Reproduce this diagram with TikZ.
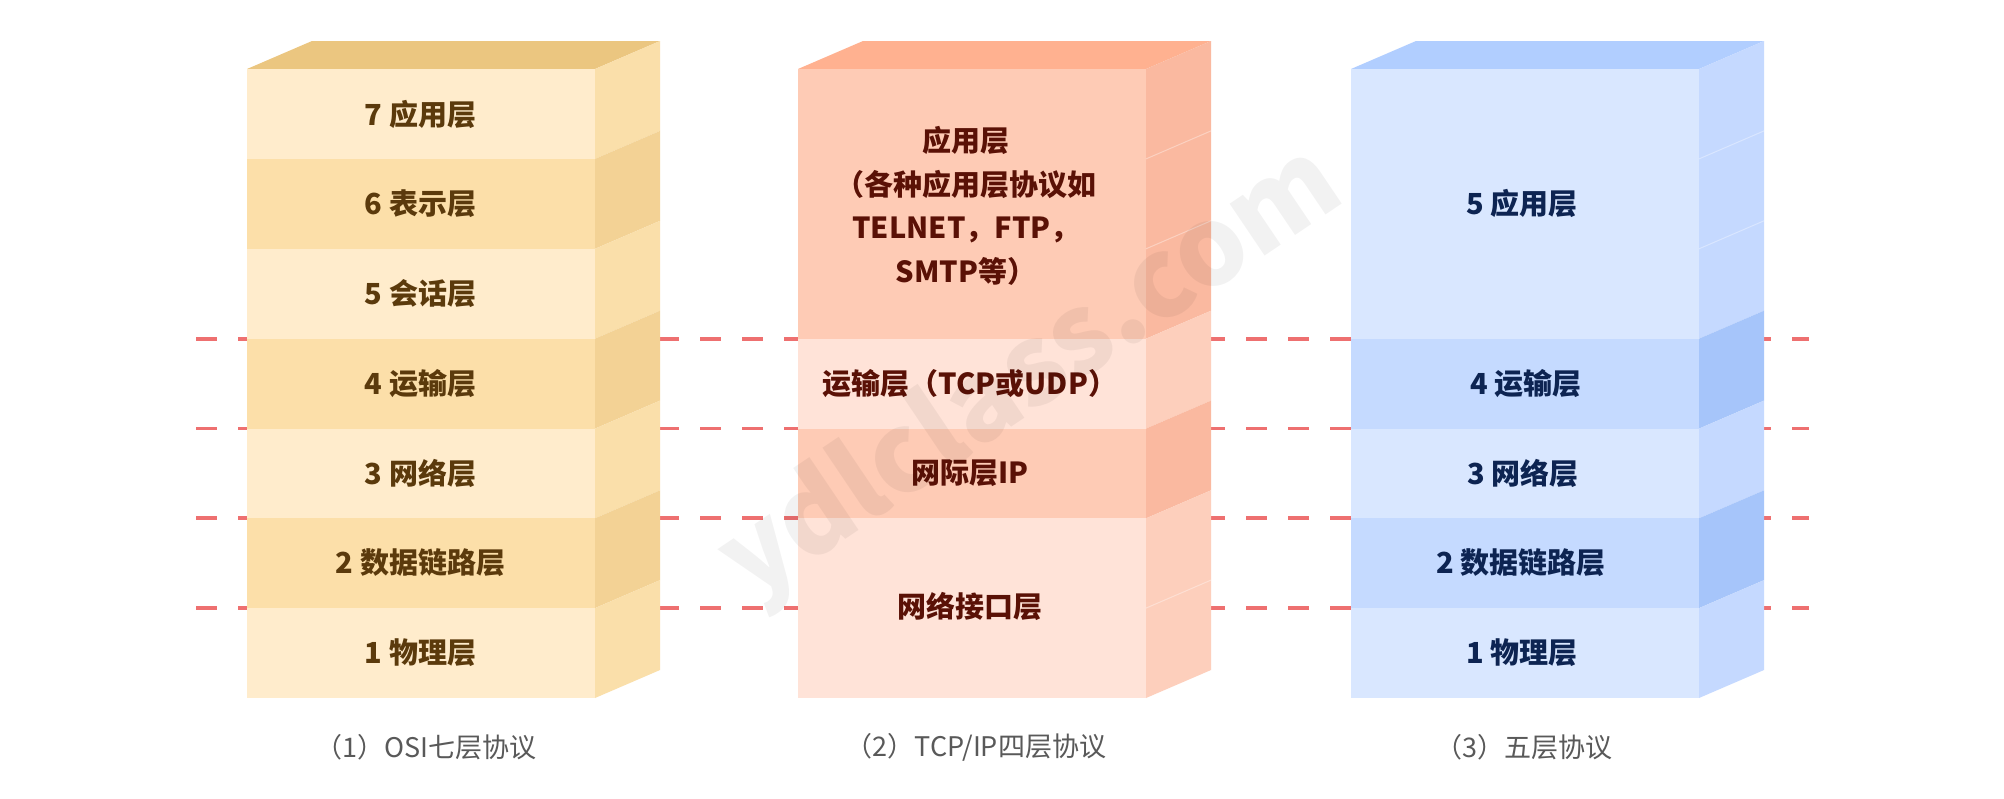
\documentclass[tikz,border=0pt]{standalone}
\usepackage{fontspec}
\newfontfamily\cjk{Noto Sans CJK SC}
\usetikzlibrary{calc}
\definecolor{osiL}{HTML}{FFECCC}
\definecolor{osiD}{HTML}{FCDFA9}
\definecolor{osiSL}{HTML}{FADFAA}
\definecolor{osiSD}{HTML}{F3D295}
\definecolor{osiT}{HTML}{EBC680}
\definecolor{osiTx}{HTML}{5B3A0C}
\definecolor{tcpD}{HTML}{FECBB5}
\definecolor{tcpL}{HTML}{FFE3D8}
\definecolor{tcpSD}{HTML}{FAB9A0}
\definecolor{tcpSL}{HTML}{FDCFBC}
\definecolor{tcpT}{HTML}{FFB190}
\definecolor{tcpTx}{HTML}{5A1106}
\definecolor{fivL}{HTML}{D9E7FF}
\definecolor{fivD}{HTML}{C5DAFF}
\definecolor{fivSL}{HTML}{C5D9FF}
\definecolor{fivSD}{HTML}{A6C5FA}
\definecolor{fivT}{HTML}{B1CEFF}
\definecolor{fivTx}{HTML}{0D2452}
\definecolor{dashred}{HTML}{EE7070}
\definecolor{capgray}{HTML}{595959}
\newcommand\slabfront[5]{%
  \fill[#4] (#1,#2) rectangle ++(348,#3);
  \fill[#5] (#1+348,#2) -- ++(65,-28) -- ++(0,#3) -- ++(-65,28) -- cycle;
}
\newcommand\topface[2]{%
  \fill[#2] (#1,69) -- ++(65,-28) -- ++(348,0) -- ++(-65,28) -- cycle;
}
\newcommand\sideseam[2]{%
  \draw[white,opacity=0.35,line width=1pt] (#1+348,#2) -- ++(65,-28);
}
\begin{document}
\begin{tikzpicture}[x=1pt,y=-1pt,
  dashline/.style={draw=dashred,line width=3.5pt,dash pattern=on 21pt off 21pt},
  lbl/.style={font=\cjk\bfseries\fontsize{29}{43.6}\selectfont,align=center,inner sep=0pt},
  captxt/.style={font=\cjk\fontsize{27}{32}\selectfont,text=capgray,inner sep=0pt},
  wmark/.style={font=\cjk\bfseries\fontsize{110}{110}\selectfont,text=black,opacity=0.05,inner sep=0pt}]
\useasboundingbox (0,0) rectangle (2004,798);
\fill[white] (0,0) rectangle (2004,798);
% dashed separators
\foreach \yy/\n in {339/a,428.4/b,518.2/c,608.1/d}{
  \coordinate (dl\n) at (196,\yy);
  \coordinate (dr\n) at (1809,\yy);
  \draw[dashline] (dl\n) -- (dr\n);
}
% ---- OSI box ----
\topface{247}{osiT}
\slabfront{247}{69}{89.9}{osiL}{osiSL}
\slabfront{247}{158.9}{89.9}{osiD}{osiSD}
\slabfront{247}{248.8}{89.9}{osiL}{osiSL}
\slabfront{247}{338.7}{89.9}{osiD}{osiSD}
\slabfront{247}{428.6}{89.7}{osiL}{osiSL}
\slabfront{247}{518.3}{89.8}{osiD}{osiSD}
\slabfront{247}{608.1}{89.9}{osiL}{osiSL}
% ---- TCP/IP box ----
\topface{798}{tcpT}
\slabfront{798}{69}{269.7}{tcpD}{tcpSD}
\sideseam{798}{158.9}
\sideseam{798}{248.8}
\slabfront{798}{338.7}{89.9}{tcpL}{tcpSL}
\slabfront{798}{428.6}{89.7}{tcpD}{tcpSD}
\slabfront{798}{518.3}{179.7}{tcpL}{tcpSL}
\sideseam{798}{608.1}
% ---- five-layer box ----
\topface{1351}{fivT}
\slabfront{1351}{69}{269.7}{fivL}{fivSL}
\sideseam{1351}{158.9}
\sideseam{1351}{248.8}
\slabfront{1351}{338.7}{89.9}{fivD}{fivSD}
\slabfront{1351}{428.6}{89.7}{fivL}{fivSL}
\slabfront{1351}{518.3}{89.8}{fivD}{fivSD}
\slabfront{1351}{608.1}{89.9}{fivL}{fivSL}
% ---- labels ----
\begin{scope}[every node/.append style={lbl,text=osiTx}]
\node (o7) at (420.5,114) {7 应用层};
\node (o6) at (420.5,204) {6 表示层};
\node (o5) at (420.5,294) {5 会话层};
\node (o4) at (420.5,384) {4 运输层};
\node (o3) at (420.5,473) {3 网络层};
\node (o2) at (420.5,563) {2 数据链路层};
\node (o1) at (420.5,653) {1 物理层};
\end{scope}
\begin{scope}[every node/.append style={lbl,text=tcpTx}]
\node (t4) at (966,206) {应用层\\（各种应用层协议如\\TELNET，FTP，\\SMTP等）};
\node (t3) at (970,384) {运输层（TCP或UDP）};
\node (t2) at (970,473) {网际层IP};
\node (t1) at (970,606) {网络接口层};
\end{scope}
\begin{scope}[every node/.append style={lbl,text=fivTx}]
\node (f5) at (1522,203) {5 应用层};
\node (f4) at (1526,384) {4 运输层};
\node (f3) at (1523,473) {3 网络层};
\node (f2) at (1521,563) {2 数据链路层};
\node (f1) at (1522,653) {1 物理层};
\end{scope}
% ---- captions ----
\node[captxt] (c1) at (426,747) {（1）OSI七层协议};
\node[captxt] (c2) at (976,747) {（2）TCP/IP四层协议};
\node[captxt] (c3) at (1524,747) {（3）五层协议};
% ---- watermark ----
\node[wmark,rotate=34] (wm) at (1032,375) {ydlclass.com};
\end{tikzpicture}
\end{document}
